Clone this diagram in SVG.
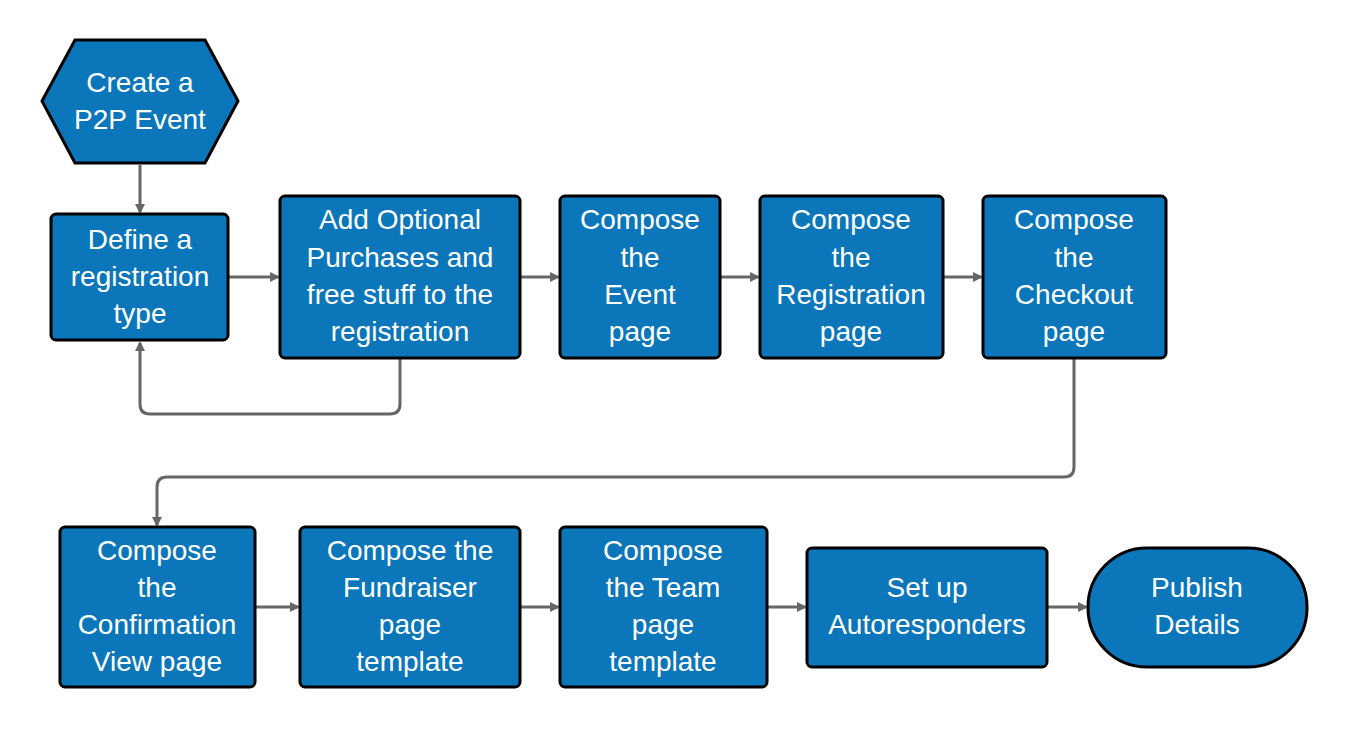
<svg xmlns="http://www.w3.org/2000/svg" width="1347" height="730" viewBox="0 0 1347 730">
<style>
.n{fill:#0b77ba;stroke:#000;stroke-width:3}
.t{fill:#fff;font-family:"Liberation Sans",Arial,sans-serif;font-size:28px;text-anchor:middle}
.c{fill:none;stroke:#666;stroke-width:3}
</style>
<defs><marker id="a" markerWidth="10" markerHeight="10" refX="8" refY="5" orient="auto" markerUnits="userSpaceOnUse" viewBox="0 0 10 10"><path d="M0,0L10,5L0,10z" fill="#666"/></marker></defs>
<rect width="1347" height="730" fill="#fff"/>
<g id="connectors">
<path class="c" d="M140,165V212" marker-end="url(#a)"/>
<path class="c" d="M229,277H278" marker-end="url(#a)"/>
<path class="c" d="M400,359V404Q400,414 390,414H150Q140,414 140,404V343" marker-end="url(#a)"/>
<path class="c" d="M521,277H558" marker-end="url(#a)"/>
<path class="c" d="M721,277H758" marker-end="url(#a)"/>
<path class="c" d="M944,277H981" marker-end="url(#a)"/>
<path class="c" d="M1074,359V467Q1074,477 1064,477H167Q157,477 157,487V525" marker-end="url(#a)"/>
<path class="c" d="M256,607H298" marker-end="url(#a)"/>
<path class="c" d="M521,607H558" marker-end="url(#a)"/>
<path class="c" d="M768,607H805" marker-end="url(#a)"/>
<path class="c" d="M1048,607H1086" marker-end="url(#a)"/>
</g>
<g id="create"><path class="n" d="M75,40H205L238,101L205,163H75L42,101Z"/><text class="t"><tspan x="140" y="92">Create a</tspan><tspan x="140" y="129">P2P Event</tspan></text></g>
<g id="define"><rect class="n" x="51" y="214" width="177" height="126" rx="5"/><text class="t"><tspan x="140" y="249">Define a</tspan><tspan x="140" y="286">registration</tspan><tspan x="140" y="323">type</tspan></text></g>
<g id="optional"><rect class="n" x="280" y="196" width="240" height="162" rx="5"/><text class="t"><tspan x="400" y="229">Add Optional</tspan><tspan x="400" y="267">Purchases and</tspan><tspan x="400" y="304">free stuff to the</tspan><tspan x="400" y="341">registration</tspan></text></g>
<g id="event"><rect class="n" x="560" y="196" width="160" height="162" rx="5"/><text class="t"><tspan x="640" y="229">Compose</tspan><tspan x="640" y="267">the</tspan><tspan x="640" y="304">Event</tspan><tspan x="640" y="341">page</tspan></text></g>
<g id="registration"><rect class="n" x="760" y="196" width="183" height="162" rx="5"/><text class="t"><tspan x="851" y="229">Compose</tspan><tspan x="851" y="267">the</tspan><tspan x="851" y="304">Registration</tspan><tspan x="851" y="341">page</tspan></text></g>
<g id="checkout"><rect class="n" x="983" y="196" width="183" height="162" rx="5"/><text class="t"><tspan x="1074" y="229">Compose</tspan><tspan x="1074" y="267">the</tspan><tspan x="1074" y="304">Checkout</tspan><tspan x="1074" y="341">page</tspan></text></g>
<g id="confirmation"><rect class="n" x="60" y="527" width="195" height="160" rx="5"/><text class="t"><tspan x="157" y="560">Compose</tspan><tspan x="157" y="597">the</tspan><tspan x="157" y="634">Confirmation</tspan><tspan x="157" y="671">View page</tspan></text></g>
<g id="fundraiser"><rect class="n" x="300" y="527" width="220" height="160" rx="5"/><text class="t"><tspan x="410" y="560">Compose the</tspan><tspan x="410" y="597">Fundraiser</tspan><tspan x="410" y="634">page</tspan><tspan x="410" y="671">template</tspan></text></g>
<g id="team"><rect class="n" x="560" y="527" width="207" height="160" rx="5"/><text class="t"><tspan x="663" y="560">Compose</tspan><tspan x="663" y="597">the Team</tspan><tspan x="663" y="634">page</tspan><tspan x="663" y="671">template</tspan></text></g>
<g id="auto"><rect class="n" x="807" y="548" width="240" height="119" rx="5"/><text class="t"><tspan x="927" y="597">Set up</tspan><tspan x="927" y="634">Autoresponders</tspan></text></g>
<g id="publish"><rect class="n" x="1088" y="548" width="219" height="119" rx="59"/><text class="t"><tspan x="1197" y="597">Publish</tspan><tspan x="1197" y="634">Details</tspan></text></g>
</svg>
